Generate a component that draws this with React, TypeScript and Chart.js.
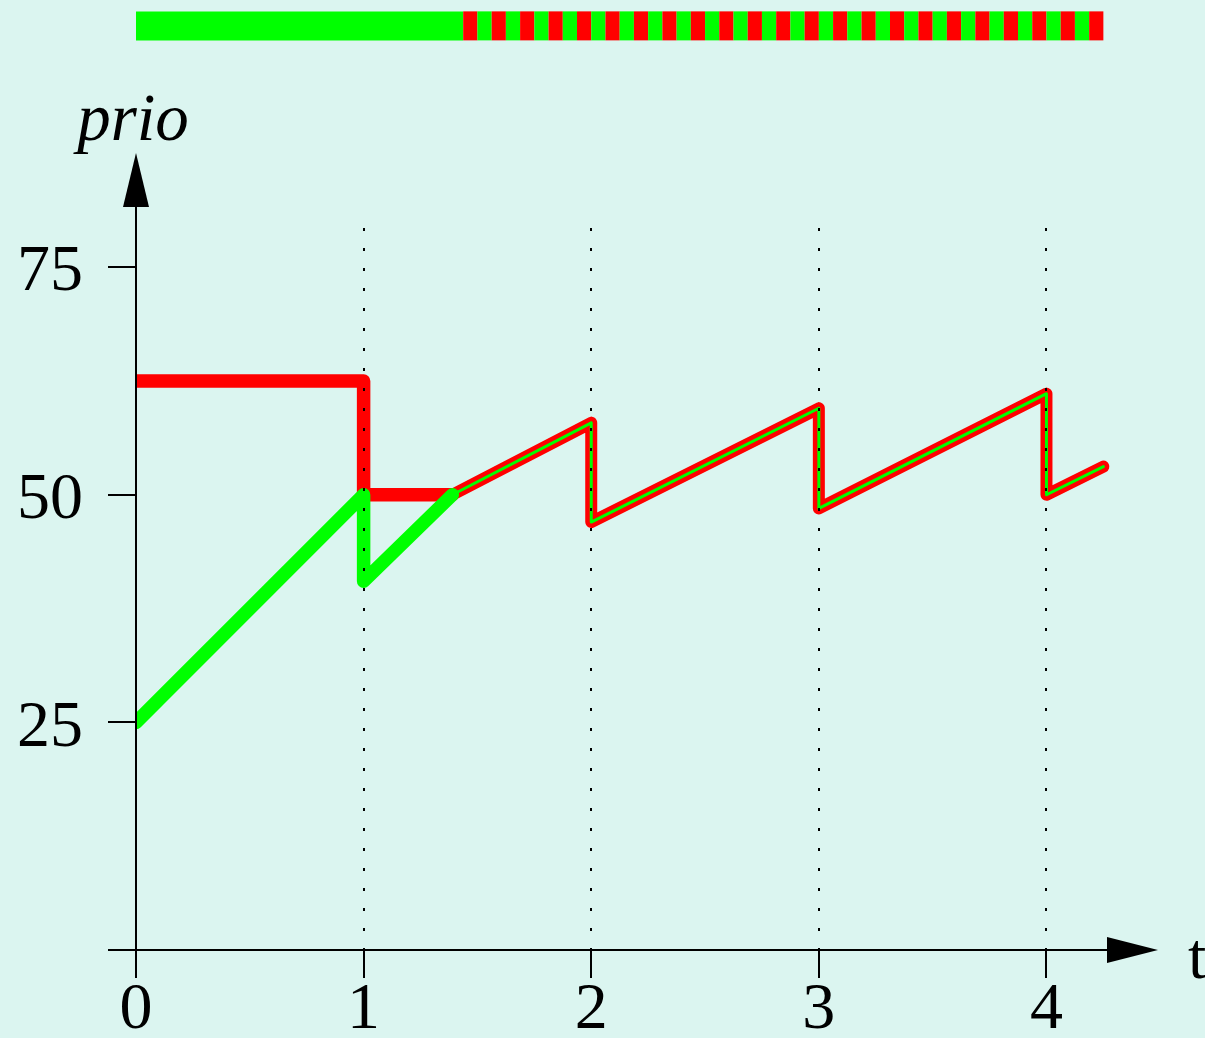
import React, { useEffect, useRef } from "react";
import { Chart, registerables } from "chart.js";

Chart.register(...registerables);

// ---------- data ----------
// time axis ticks and priority ticks
const xTicks = [0, 1, 2, 3, 4];
const yTicks = [25, 50, 75];

// red process: priority over time
const redTimes = [0, 1, 1, 1.39, 2, 2, 3, 3, 4, 4, 4.25];
const redPrio = [62.5, 62.5, 50, 50, 57.9, 47, 59.5, 48.5, 61.1, 50, 53.1];

// green process: priority over time (before both share equal priority)
const greenTimes = [0, 1, 1, 1.39];
const greenPrio = [25, 50, 40.5, 50];

// index in red series from where both processes have the same priority
const SHARED_FROM = 3;

// CPU timeline bar at the top: boundaries and which process runs in each slot
const barTimes = [
  0, 1.4375, 1.5, 1.5625, 1.625, 1.6875, 1.75, 1.8125, 1.875, 1.9375,
  2, 2.0625, 2.125, 2.1875, 2.25, 2.3125, 2.375, 2.4375, 2.5, 2.5625,
  2.625, 2.6875, 2.75, 2.8125, 2.875, 2.9375, 3, 3.0625, 3.125, 3.1875,
  3.25, 3.3125, 3.375, 3.4375, 3.5, 3.5625, 3.625, 3.6875, 3.75, 3.8125,
  3.875, 3.9375, 4, 4.0625, 4.125, 4.1875, 4.25,
];
const barRunning = [
  "g",
  "r", "g", "r", "g", "r", "g", "r", "g", "r", "g",
  "r", "g", "r", "g", "r", "g", "r", "g", "r", "g",
  "r", "g", "r", "g", "r", "g", "r", "g", "r", "g",
  "r", "g", "r", "g", "r", "g", "r", "g", "r", "g",
  "r", "g", "r", "g", "r",
];

// ---------- styles ----------
const W = 1205;
const H = 1038;
const BG = "#dbf5f0";
const RED = "#ff0000";
const GREEN = "#00ff00";
const SERIF = "'Liberation Serif', 'Times New Roman', serif";
const BAR_LEVEL = 101.5; // vertical position of the timeline bar, in prio units
const X_MAX = 4.49;
const Y_MAX = 79.3;

const pts = (xs: number[], ys: number[]) => xs.map((x, i) => ({ x, y: ys[i] }));

const bgPlugin = {
  id: "bg",
  beforeDraw(chart: any) {
    const ctx = chart.ctx;
    ctx.save();
    ctx.fillStyle = BG;
    ctx.fillRect(0, 0, chart.width, chart.height);
    ctx.restore();
  },
};

const axesPlugin = {
  id: "axesArrows",
  afterDraw(chart: any) {
    const ctx = chart.ctx;
    const xs = chart.scales.x;
    const ys = chart.scales.y;
    const area = chart.chartArea;
    const x0 = xs.getPixelForValue(0);
    const y0 = ys.getPixelForValue(0);
    const yTip = area.top - 75;
    const xTip = area.right;
    ctx.save();
    ctx.strokeStyle = "#000";
    ctx.fillStyle = "#000";
    ctx.lineWidth = 2;
    // y axis
    ctx.beginPath();
    ctx.moveTo(x0, y0 + 1);
    ctx.lineTo(x0, yTip + 40);
    ctx.stroke();
    ctx.beginPath();
    ctx.moveTo(x0, yTip);
    ctx.lineTo(x0 - 13, yTip + 54);
    ctx.lineTo(x0 + 13, yTip + 54);
    ctx.closePath();
    ctx.fill();
    // x axis
    ctx.beginPath();
    ctx.moveTo(x0 - 28, y0);
    ctx.lineTo(xTip - 40, y0);
    ctx.stroke();
    ctx.beginPath();
    ctx.moveTo(xTip, y0);
    ctx.lineTo(xTip - 51, y0 - 13);
    ctx.lineTo(xTip - 51, y0 + 13);
    ctx.closePath();
    ctx.fill();
    // axis titles
    ctx.font = `italic 67px ${SERIF}`;
    ctx.textAlign = "center";
    ctx.textBaseline = "alphabetic";
    ctx.fillText("prio", x0 - 3, area.top - 88);
    ctx.font = `66px ${SERIF}`;
    ctx.textAlign = "left";
    ctx.fillText("t", xTip + 30, y0 + 28);
    ctx.restore();
  },
};

const lineStyle = (color: string, width: number) => ({
  borderColor: color,
  borderWidth: width,
  borderCapStyle: "round",
  borderJoinStyle: "round",
  pointRadius: 0,
});

export default function App() {
  const ref = useRef<HTMLCanvasElement>(null);

  useEffect(() => {
    if (!ref.current) return;
    const sharedT = redTimes.slice(SHARED_FROM);
    const sharedP = redPrio.slice(SHARED_FROM);
    // Chart.js paints the first dataset on top, so list top-most first
    const chart = new Chart(ref.current, {
      type: "line",
      data: {
        datasets: [
          { data: pts(sharedT, sharedP), ...lineStyle(GREEN, 3) },
          { data: pts(greenTimes, greenPrio), ...lineStyle(GREEN, 13.5) },
          { data: pts(sharedT, sharedP), ...lineStyle(RED, 12) },
          {
            data: pts(redTimes.slice(0, SHARED_FROM + 1), redPrio.slice(0, SHARED_FROM + 1)),
            ...lineStyle(RED, 13.5),
          },
          {
            data: barTimes.map((x) => ({ x, y: BAR_LEVEL })),
            borderColor: RED,
            borderWidth: 29,
            borderCapStyle: "butt",
            pointRadius: 0,
            clip: false as any,
            segment: {
              borderColor: (c: any) => (barRunning[c.p0DataIndex] === "r" ? RED : GREEN),
            },
          },
        ] as any,
      },
      options: {
        responsive: false,
        animation: false,
        devicePixelRatio: 1,
        events: [],
        layout: { padding: { top: 228, right: 47, left: 0, bottom: 0 } },
        plugins: {
          legend: { display: false },
          tooltip: { enabled: false },
        },
        elements: { line: { tension: 0 } },
        scales: {
          x: {
            type: "linear",
            min: 0,
            max: X_MAX,
            afterBuildTicks: (s: any) => {
              s.ticks = xTicks.map((v) => ({ value: v }));
            },
            afterFit: (s: any) => {
              s.height = 88;
            },
            grid: {
              display: true,
              drawOnChartArea: true,
              color: (c: any) => (c.tick && c.tick.value === 0 ? "rgba(0,0,0,0)" : "#000"),
              lineWidth: 2,
              tickLength: 28,
              tickWidth: 2,
              tickColor: "#000",
              z: 1,
            },
            border: { display: false, dash: [3, 17] },
            ticks: {
              color: "#000",
              font: { family: SERIF, size: 66, lineHeight: 1 },
              padding: 0,
              maxRotation: 0,
              autoSkip: false,
              callback: (v: any) => String(v),
            },
          },
          y: {
            type: "linear",
            min: 0,
            max: Y_MAX,
            afterBuildTicks: (s: any) => {
              s.ticks = yTicks.map((v) => ({ value: v }));
            },
            afterFit: (s: any) => {
              s.width = 136;
            },
            grid: {
              display: true,
              drawOnChartArea: false,
              tickLength: 28,
              tickWidth: 2,
              tickColor: "#000",
              color: "#000",
              lineWidth: 2,
            },
            border: { display: false },
            ticks: {
              color: "#000",
              font: { family: SERIF, size: 66, lineHeight: 1 },
              padding: 25,
              labelOffset: 6,
              callback: (v: any) => String(v),
            },
          },
        },
      } as any,
      plugins: [bgPlugin, axesPlugin],
    });
    return () => chart.destroy();
  }, []);

  return (
    <div
      style={{
        position: "fixed",
        left: 0,
        top: 0,
        width: W,
        height: H,
        background: BG,
        overflow: "hidden",
      }}
    >
      <canvas ref={ref} width={W} height={H} style={{ display: "block", width: W, height: H }} />
    </div>
  );
}
